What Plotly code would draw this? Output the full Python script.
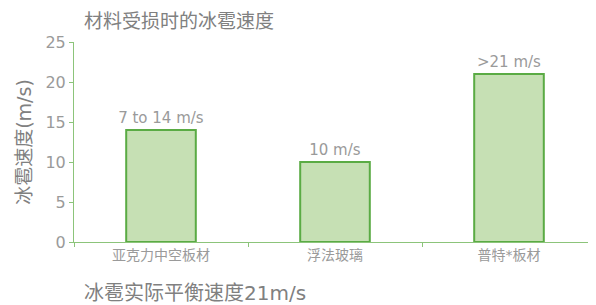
import plotly.graph_objects as go

categories = ["亚克力中空板材", "浮法玻璃", "普特*板材"]
values = [14, 10, 21]
labels = ["7 to 14 m/s", "10 m/s", ">21 m/s"]
y_ticks = [0, 5, 10, 15, 20, 25]

FONT = "DejaVu Sans, Noto Sans CJK SC, sans-serif"
GRAY = "#808080"
LIGHT = "#9a9a9a"
AXIS_GREEN = "#8cc47a"

# page has an 8px body margin; figure is sized/offset to compensate
W, H = 588, 297
L, R, T, B = 66, 0, 34, 63
PW = W - L - R

fig = go.Figure(go.Bar(
    x=categories, y=values,
    text=labels, textposition="outside", constraintext="none",
    textfont=dict(family=FONT, size=15, color=LIGHT),
    marker=dict(color="#c6e0b4", line=dict(color="#5aab44", width=2)),
    cliponaxis=False,
))

fig.update_layout(
    width=W, height=H,
    margin=dict(l=L, r=R, t=T, b=B),
    paper_bgcolor="white", plot_bgcolor="white",
    bargap=0.6,
    showlegend=False,
    font=dict(family=FONT, color=GRAY),
    annotations=[
        dict(text="材料受损时的冰雹速度", xref="paper", yref="paper",
             x=(74 - L) / PW, y=1, yshift=21, xanchor="left", yanchor="middle",
             showarrow=False, font=dict(family=FONT, size=19, color=GRAY)),
        dict(text="冰雹实际平衡速度21m/s", xref="paper", yref="paper",
             x=(74 - L) / PW, y=0, yshift=-51, xanchor="left", yanchor="middle",
             showarrow=False, font=dict(family=FONT, size=20, color=GRAY)),
    ],
)
fig.update_yaxes(
    range=[0, 25], tickvals=y_ticks, showgrid=False, zeroline=False,
    showline=True, linecolor=AXIS_GREEN, linewidth=1,
    ticks="outside", ticklen=4, tickcolor=AXIS_GREEN,
    tickfont=dict(family=FONT, size=16, color=LIGHT),
    title=dict(text="冰雹速度(m/s)", font=dict(family=FONT, size=19, color=GRAY), standoff=8),
)
fig.update_xaxes(
    showgrid=False, showline=True, linecolor=AXIS_GREEN, linewidth=1,
    ticks="outside", tickson="boundaries", ticklen=4, tickcolor=AXIS_GREEN,
    tickfont=dict(family=FONT, size=14, color=LIGHT),
)

fig.write_html("out.html")
